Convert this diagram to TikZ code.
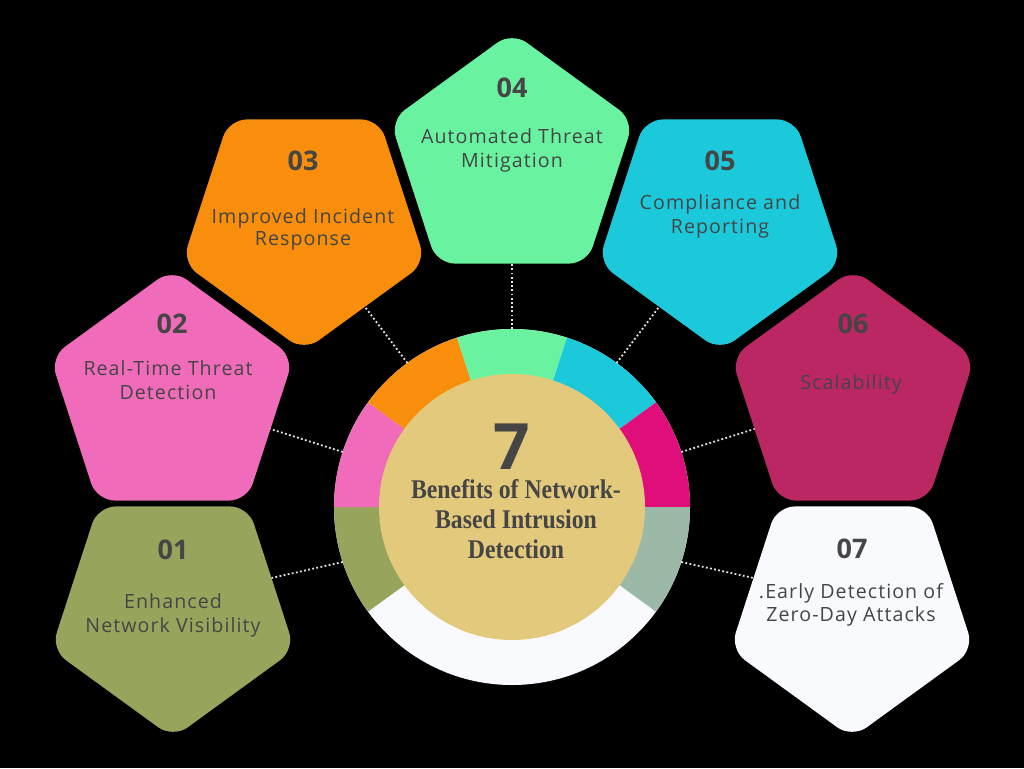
\documentclass[tikz,border=0pt]{standalone}
\usepackage{fontspec}
\setmainfont{Open Sans}
\newfontfamily\lblfont[LetterSpace=5.5]{Open Sans}
\newfontfamily\condserif[FakeStretch=0.88]{Liberation Serif}
\usetikzlibrary{shapes.geometric}
\definecolor{colA}{HTML}{97A45C}
\definecolor{colB}{HTML}{F06BB9}
\definecolor{colC}{HTML}{F88E0B}
\definecolor{colD}{HTML}{69F3A1}
\definecolor{colE}{HTML}{1BC9DB}
\definecolor{colF}{HTML}{BA2763}
\definecolor{colG}{HTML}{F8FAFE}
\definecolor{ringF}{HTML}{E00E7A}
\definecolor{ringG}{HTML}{9CB9A8}
\definecolor{coreC}{HTML}{E3C97B}
\definecolor{txt}{HTML}{454545}
\definecolor{dotc}{HTML}{E6E6E6}
\begin{document}
\begin{tikzpicture}[x=1pt,y=-1pt,
  pent/.style={regular polygon, regular polygon sides=5, minimum size=256pt,
    inner sep=0pt, outer sep=0pt, rounded corners=18pt},
  pdown/.style={pent, shape border rotate=180},
  numlbl/.style={anchor=base, inner sep=0pt, text=txt,
    font=\bfseries\fontsize{27}{27}\selectfont},
  lbl/.style={anchor=base, inner sep=0pt, text=txt,
    font=\lblfont\fontsize{19.6}{24}\selectfont},
  hd/.style={anchor=base, inner sep=0pt, text=txt, text height=18pt, text depth=6pt,
    font=\condserif\bfseries\fontsize{27}{30}\selectfont},
  conn/.style={draw=dotc, line width=1.8pt, dash pattern=on 1.8pt off 2.4pt}]
\fill[black] (0,0) rectangle (1024,768);
\useasboundingbox (0,0) rectangle (1024,768);

% ring
\node[circle, minimum size=356pt, inner sep=0pt, outer sep=0pt, fill=colG] (ring) at (512,507) {};
\begin{scope}[shift={(512,507)}, y=1pt]
  \fill[colA] (0,0) -- (180:178) arc[start angle=180, end angle=216, radius=178] -- cycle;
  \fill[colB] (0,0) -- (144:178) arc[start angle=144, end angle=180, radius=178] -- cycle;
  \fill[colC] (0,0) -- (108:178) arc[start angle=108, end angle=144, radius=178] -- cycle;
  \fill[colD] (0,0) -- (72:178) arc[start angle=72, end angle=108, radius=178] -- cycle;
  \fill[colE] (0,0) -- (36:178) arc[start angle=36, end angle=72, radius=178] -- cycle;
  \fill[ringF] (0,0) -- (0:178) arc[start angle=0, end angle=36, radius=178] -- cycle;
  \fill[ringG] (0,0) -- (-36:178) arc[start angle=-36, end angle=0, radius=178] -- cycle;
\end{scope}
\node[circle, minimum size=266pt, inner sep=0pt, outer sep=0pt, fill=coreC] (core) at (512,507) {};

% center text
\node[anchor=base, inner sep=0pt, text=txt, text depth=0pt,
  font=\bfseries\fontsize{64}{64}\selectfont] (seven) at (512,469) {7};
\node[hd] (h1) at (516,498) {Benefits of Network-};
\node[hd] (h2) at (516,528) {Based Intrusion};
\node[hd] (h3) at (516,558) {Detection};

% pentagons
\node[pdown, fill=colA] (p1) at (173,610) {};
\node[pent,  fill=colB] (p2) at (172,397) {};
\node[pdown, fill=colC] (p3) at (304,223) {};
\node[pent,  fill=colD] (p4) at (512,160) {};
\node[pdown, fill=colE] (p5) at (720,223) {};
\node[pent,  fill=colF] (p6) at (853,397) {};
\node[pdown, fill=colG] (p7) at (852,610) {};

% connectors
\draw[conn] (ring.198) -- (p1.18);
\draw[conn] (ring.162) -- (p2.-18);
\draw[conn] (ring.126) -- (p3.-54);
\draw[conn] (ring.90) -- (p4.-90);
\draw[conn] (ring.54) -- (p5.-126);
\draw[conn] (ring.18) -- (p6.198);
\draw[conn] (ring.-18) -- (p7.162);

% labels
\node[numlbl] (n1) at (173,559) {01};
\node[lbl] (t1a) at (173,608) {Enhanced};
\node[lbl] (t1b) at (173,632) {Network Visibility};

\node[numlbl] (n2) at (172,333) {02};
\node[lbl] (t2a) at (168,375) {Real-Time Threat};
\node[lbl] (t2b) at (168,399) {Detection};

\node[numlbl] (n3) at (303,170) {03};
\node[lbl] (t3a) at (303,223) {Improved Incident};
\node[lbl] (t3b) at (303,245) {Response};

\node[numlbl] (n4) at (512,97) {04};
\node[lbl] (t4a) at (512,143) {Automated Threat};
\node[lbl] (t4b) at (512,167) {Mitigation};

\node[numlbl] (n5) at (720,170) {05};
\node[lbl] (t5a) at (720,209) {Compliance and};
\node[lbl] (t5b) at (720,233) {Reporting};

\node[numlbl] (n6) at (853,333) {06};
\node[lbl] (t6a) at (851,389) {Scalability};

\node[numlbl] (n7) at (852,558) {07};
\node[lbl] (t7a) at (851,598) {.Early Detection of};
\node[lbl] (t7b) at (851,621) {Zero-Day Attacks};
\end{tikzpicture}
\end{document}
